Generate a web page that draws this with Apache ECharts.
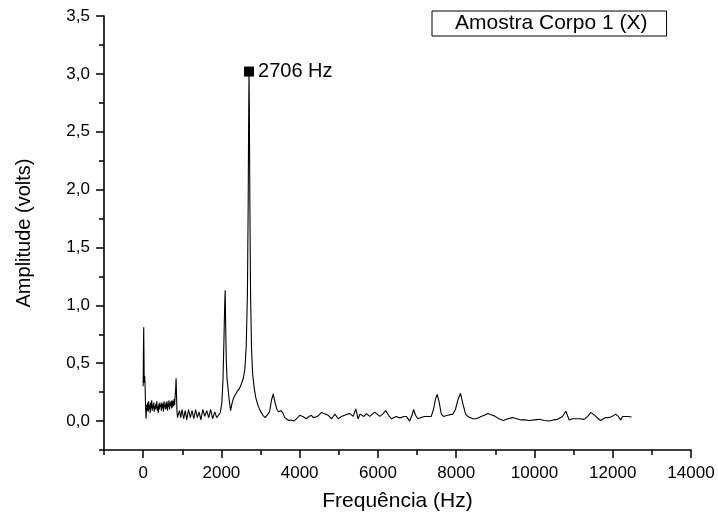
<!DOCTYPE html>
<html><head><meta charset="utf-8">
<script src="https://cdn.jsdelivr.net/npm/echarts@6/dist/echarts.min.js"></script>
<style>html,body{margin:0;padding:0;background:#fff}#c{width:718px;height:517px}</style>
</head><body><div id="c"></div>
<script>
const seriesName = 'Amostra Corpo 1 (X)';
const freq = [0,8,15,20,28,40,50,62,75,90,105,118,130,142,155,168,180,193,206,219,232,245,258,271,284,297,310,323,336,349,362,375,388,401,414,427,440,453,466,479,492,505,518,531,544,557,570,583,596,609,622,635,648,661,674,687,700,713,726,739,752,765,778,791,804,817,830,842,852,865,880,900,930,960,995,1035,1075,1115,1160,1205,1250,1295,1340,1385,1430,1475,1525,1575,1625,1675,1725,1775,1830,1880,1930,1970,2010,2040,2065,2085,2097,2108,2125,2145,2170,2200,2235,2270,2310,2360,2410,2460,2510,2560,2600,2635,2665,2685,2698,2706,2714,2727,2745,2770,2800,2840,2880,2930,2990,3060,3120,3170,3230,3280,3325,3370,3420,3460,3520,3570,3620,3670,3720,3780,3850,3920,4000,4080,4170,4240,4300,4350,4390,4460,4560,4650,4730,4815,4900,4985,5070,5150,5220,5282,5367,5435,5494,5540,5580,5640,5707,5791,5860,5918,5980,6046,6120,6199,6270,6344,6410,6471,6530,6599,6660,6726,6810,6870,6912,6960,7022,7100,7192,7280,7362,7420,7470,7515,7560,7620,7676,7780,7914,7980,8050,8110,8170,8240,8296,8424,8510,8637,8720,8806,8890,8976,9090,9205,9320,9443,9550,9656,9760,9868,10000,10122,10250,10377,10480,10589,10716,10802,10886,10970,11056,11160,11268,11360,11439,11500,11567,11630,11694,11760,11821,11890,11949,12010,12076,12140,12204,12250,12287,12380,12484];
const amp = [0.30,0.60,0.81,0.62,0.33,0.39,0.30,0.12,0.02,0.14,0.09,0.16,0.08,0.17,0.10,0.14,0.07,0.16,0.11,0.18,0.09,0.14,0.11,0.16,0.08,0.13,0.10,0.15,0.11,0.17,0.09,0.13,0.07,0.15,0.10,0.16,0.12,0.14,0.09,0.16,0.11,0.15,0.08,0.17,0.12,0.14,0.10,0.16,0.11,0.17,0.09,0.15,0.12,0.18,0.10,0.16,0.13,0.17,0.11,0.18,0.12,0.17,0.13,0.19,0.14,0.21,0.27,0.37,0.24,0.08,0.03,0.06,0.09,0.03,0.10,0.02,0.09,0.01,0.10,0.03,0.09,0.02,0.10,0.03,0.08,0.01,0.10,0.04,0.09,0.03,0.10,0.02,0.08,0.03,0.02,0.07,0.15,0.35,0.70,1.02,1.13,0.85,0.52,0.36,0.28,0.18,0.09,0.15,0.20,0.23,0.26,0.28,0.32,0.37,0.45,0.65,1.10,1.90,2.70,3.02,2.70,1.90,1.10,0.62,0.40,0.28,0.20,0.14,0.09,0.05,0.03,0.02,0.08,0.18,0.235,0.16,0.10,0.08,0.09,0.07,0.03,0.02,0.005,0.01,0.0,0.02,0.05,0.04,0.02,0.04,0.05,0.03,0.02,0.04,0.075,0.06,0.05,0.02,0.06,0.02,0.04,0.05,0.06,0.065,0.04,0.105,0.02,0.06,0.05,0.04,0.065,0.04,0.06,0.077,0.06,0.04,0.06,0.09,0.05,0.02,0.03,0.04,0.03,0.03,0.04,0.04,0.0,0.05,0.10,0.05,0.02,0.03,0.04,0.04,0.04,0.10,0.19,0.23,0.17,0.06,0.04,0.05,0.06,0.10,0.19,0.24,0.15,0.06,0.04,0.02,0.02,0.04,0.05,0.065,0.055,0.045,0.02,0.005,0.02,0.03,0.02,0.01,0.01,0.005,0.01,0.015,0.005,0.0,0.01,0.015,0.04,0.085,0.01,0.02,0.02,0.02,0.015,0.04,0.075,0.06,0.04,0.02,0.005,0.02,0.03,0.03,0.035,0.045,0.06,0.04,0.01,0.04,0.045,0.04,0.035];
const peakFreq = 2706;
const peakAmp = 3.02;
const peakLabel = '2706 Hz';
const xMajor = [0,2000,4000,6000,8000,10000,12000,14000];
const xMinor = [-1000,1000,3000,5000,7000,9000,11000,13000];
const yMajor = [0,0.5,1.0,1.5,2.0,2.5,3.0,3.5];
const yMinor = [-0.25,0.25,0.75,1.25,1.75,2.25,2.75,3.25];
const xRange = [-1000, 14000];
const yRange = [-0.25, 3.5];

const FONT = '"Liberation Sans", Arial, sans-serif';
const chart = echarts.init(document.getElementById('c'), null, {renderer: 'canvas'});
const line = freq.map((f, i) => [f, amp[i]]);
const axisLine = {show: true, onZero: false, lineStyle: {color: '#000', width: 1.6}};
const tickFont = {fontFamily: FONT, fontSize: 17, color: '#000'};
chart.setOption({
  animation: false,
  backgroundColor: '#fff',
  grid: {left: 104, right: 27, top: 16, bottom: 64},
  legend: {
    data: [{name: seriesName, icon: 'none'}],
    left: 432, top: 11,
    itemWidth: 4, itemHeight: 4,
    padding: [2, 19, 2, 14],
    borderColor: '#000', borderWidth: 1,
    selectedMode: false,
    textStyle: {fontFamily: FONT, fontSize: 21, color: '#000', lineHeight: 21}
  },
  xAxis: [{
    type: 'value', min: xRange[0], max: xRange[1], position: 'bottom',
    name: 'Frequência (Hz)', nameLocation: 'middle', nameGap: 41,
    nameTextStyle: {fontFamily: FONT, fontSize: 21, color: '#000'},
    axisLine: axisLine,
    splitLine: {show: false},
    axisTick: {show: true, customValues: xMajor, length: 8, lineStyle: {color: '#000', width: 1.5}},
    axisLabel: Object.assign({customValues: xMajor, margin: 15, formatter: v => String(v)}, tickFont)
  }, {
    type: 'value', min: xRange[0], max: xRange[1], position: 'bottom',
    axisLine: {show: false, onZero: false}, splitLine: {show: false},
    axisTick: {show: true, customValues: xMinor, length: 5, lineStyle: {color: '#000', width: 1.5}},
    axisLabel: {show: false}
  }],
  yAxis: [{
    type: 'value', min: yRange[0], max: yRange[1], position: 'left',
    name: 'Amplitude (volts)', nameLocation: 'middle', nameGap: 70,
    nameTextStyle: {fontFamily: FONT, fontSize: 20, color: '#000'},
    axisLine: axisLine,
    splitLine: {show: false},
    axisTick: {show: true, customValues: yMajor, length: 8, lineStyle: {color: '#000', width: 1.5}},
    axisLabel: Object.assign({customValues: yMajor, margin: 14,
      formatter: v => v.toFixed(1).replace('.', ',')}, tickFont)
  }, {
    type: 'value', min: yRange[0], max: yRange[1], position: 'left',
    axisLine: {show: false, onZero: false}, splitLine: {show: false},
    axisTick: {show: true, customValues: yMinor, length: 5, lineStyle: {color: '#000', width: 1.5}},
    axisLabel: {show: false}
  }],
  series: [{
    name: seriesName, type: 'line', data: line, showSymbol: false, symbol: 'none',
    lineStyle: {color: '#000', width: 1.1}, itemStyle: {color: '#000'},
    xAxisIndex: 0, yAxisIndex: 0, z: 3
  }, {
    name: 'peak', type: 'scatter', data: [[peakFreq, peakAmp]],
    symbol: 'rect', symbolSize: 10, itemStyle: {color: '#000', opacity: 1},
    label: {show: true, position: 'right', distance: 4, formatter: peakLabel,
      fontFamily: FONT, fontSize: 20, color: '#000'},
    xAxisIndex: 0, yAxisIndex: 0, z: 5
  }]
});
</script></body></html>
